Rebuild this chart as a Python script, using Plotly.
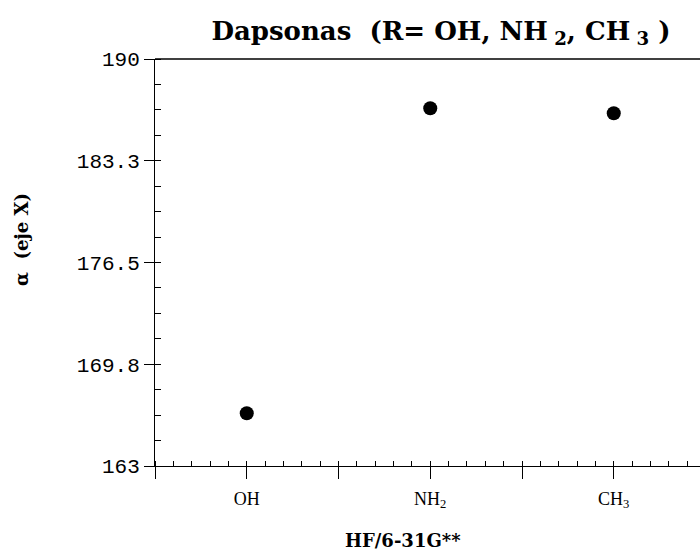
import plotly.graph_objects as go

# Substituent groups and the alpha angle computed for each (HF/6-31G**)
categories = ["OH", "NH<sub>2</sub>", "CH<sub>3</sub>"]
alpha_values = [166.5, 186.73, 186.4]

y_tick_vals = [163, 169.75, 176.5, 183.25, 190]
y_tick_text = ["163", "169.8", "176.5", "183.3", "190"]

positions = [i + 1 for i in range(len(categories))]

fig = go.Figure()
fig.add_trace(go.Scatter(
    x=positions,
    y=alpha_values,
    mode="markers",
    marker=dict(color="black", size=14),
    showlegend=False,
))

# major x ticks every half step, labels only at the categories
x_major = [0.5 + 0.5 * k for k in range(7)]
x_text = []
for v in x_major:
    if v in positions:
        x_text.append(categories[positions.index(v)])
    else:
        x_text.append("")

fig.update_layout(
    width=700,
    height=554,
    margin=dict(l=155, r=0, t=59, b=88),
    plot_bgcolor="white",
    paper_bgcolor="white",
    title=dict(
        text="Dapsonas  (R= OH, NH<sub> 2</sub>, CH<sub> 3</sub> )",
        x=0.63,
        xanchor="center",
        y=0.945,
        yanchor="middle",
        font=dict(family="DejaVu Serif", size=26, color="black", weight="bold"),
    ),
    xaxis=dict(
        range=[0.5, 3.47],
        tickmode="array",
        tickvals=x_major,
        ticktext=x_text,
        ticks="outside",
        ticklen=12,
        tickwidth=1,
        tickcolor="black",
        showline=True,
        linecolor="black",
        linewidth=1,
        mirror=False,
        showgrid=False,
        zeroline=False,
        ticklabelstandoff=4,
        tickfont=dict(family="Liberation Serif", size=18, color="black"),
        minor=dict(dtick=0.1, tick0=0.5, ticks="inside", ticklen=5,
                   tickwidth=1, tickcolor="black", showgrid=False),
    ),
    yaxis=dict(
        range=[163, 190],
        tickmode="array",
        tickvals=y_tick_vals,
        ticktext=y_tick_text,
        ticks="outside",
        ticklen=10,
        tickwidth=1,
        tickcolor="black",
        showline=True,
        linecolor="black",
        linewidth=1,
        showgrid=False,
        zeroline=False,
        tickfont=dict(family="Liberation Mono", size=21, color="black"),
        minor=dict(dtick=1.6875, tick0=163, ticks="inside", ticklen=6,
                   tickwidth=1, tickcolor="black", showgrid=False),
    ),
    annotations=[
        dict(text="α  (eje X)", textangle=-90, x=22, y=240,
             xref="paper", yref="paper", showarrow=False,
             font=dict(family="DejaVu Serif", size=18, color="black", weight="bold")),
        dict(text="HF/6-31G**", x=403, y=540,
             xref="paper", yref="paper", showarrow=False,
             font=dict(family="DejaVu Serif", size=18, color="black", weight="bold")),
    ],
    shapes=[
        # top frame line
        dict(type="line", xref="paper", yref="paper", x0=0, x1=1, y0=1, y1=1,
             line=dict(color="black", width=1.5)),
    ],
)

# convert pixel-placed annotations into paper coordinates
plot_w = 700 - 155 - 0
plot_h = 554 - 59 - 88
new_ann = []
for a in fig.layout.annotations:
    px, py = a.x, a.y
    a.x = (px - 155) / plot_w
    a.y = 1 - (py - 59) / plot_h
    a.xanchor = "center"
    a.yanchor = "middle"
    new_ann.append(a)
fig.layout.annotations = new_ann

fig.write_html("out.html")
